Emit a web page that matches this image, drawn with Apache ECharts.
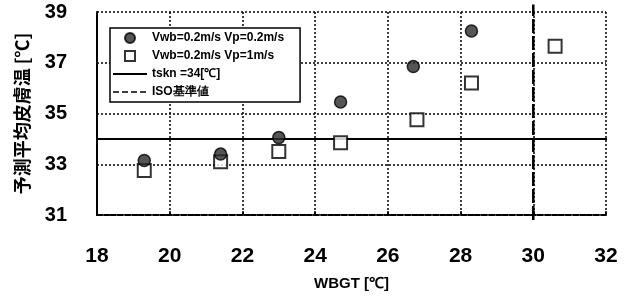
<!DOCTYPE html>
<html>
<head>
<meta charset="utf-8">
<script src="https://cdn.jsdelivr.net/npm/echarts@6/dist/echarts.min.js"></script>
<style>
  html, body { margin: 0; padding: 0; background: #fff; }
  #chart { width: 629px; height: 297px; }
</style>
</head>
<body>
<div id="chart"></div>
<script>
// WBGT [℃] vs predicted mean skin temperature
const seriesNames = ["Vwb=0.2m/s Vp=0.2m/s", "Vwb=0.2m/s Vp=1m/s", "tskn =34[℃]", "ISO基準値"];
const circleX = [19.3, 21.4, 23.0, 24.7, 26.7, 28.3];
const circleY = [33.15, 33.4, 34.05, 35.45, 36.85, 38.25];
const squareX = [19.3, 21.4, 23.0, 24.7, 26.8, 28.3, 30.6];
const squareY = [32.75, 33.1, 33.5, 33.85, 34.75, 36.2, 37.65];
const tsknY = 34;
const isoX = 30;
const xTicks = [18, 20, 22, 24, 26, 28, 30, 32];
const yTicks = [31, 33, 35, 37, 39];

const chart = echarts.init(document.getElementById("chart"));

const font = "'Liberation Sans', Arial, sans-serif";
const isoDash = [14, 3];

chart.setOption({
  animation: false,
  backgroundColor: "#fff",
  grid: {
    left: 97,
    right: 23,
    top: 12,
    bottom: 82,
  },
  legend: {
    orient: "vertical",
    left: 110,
    top: 28,
    data: [
      { name: seriesNames[0], icon: "circle" },
      { name: seriesNames[1], icon: "path://M0,0L10,0L10,10L0,10Z" },
      { name: seriesNames[2], icon: "inherit", lineStyle: { width: 2 }, itemStyle: { opacity: 0 } },
      { name: seriesNames[3], icon: "inherit", lineStyle: { type: [6, 3], width: 1.5 }, itemStyle: { opacity: 0 } },
    ],
    itemWidth: 34,
    itemHeight: 10,
    itemGap: 6,
    padding: [4, 16, 4, 2],
    backgroundColor: "#fff",
    borderColor: "#000",
    borderWidth: 1.5,
    textStyle: {
      fontFamily: font,
      fontWeight: "bold",
      fontSize: 12,
      color: "#000",
    },
  },
  xAxis: {
    type: "value",
    min: xTicks[0],
    max: xTicks[xTicks.length - 1],
    interval: 2,
    name: "WBGT [℃]",
    nameLocation: "middle",
    nameGap: 61,
    nameTextStyle: {
      fontFamily: font,
      fontWeight: "bold",
      fontSize: 15,
      color: "#000",
    },
    axisLine: {
      lineStyle: { color: "#000", width: 2, type: [5, 2] },
    },
    axisTick: { show: true, inside: true, length: 4, lineStyle: { color: "#000", width: 1.5 } },
    axisLabel: {
      margin: 31,
      fontFamily: font,
      fontWeight: "bold",
      fontSize: 21,
      color: "#000",
    },
    splitLine: {
      show: true,
      lineStyle: { color: "#000", width: 1.5, type: [2, 2] },
    },
  },
  yAxis: {
    type: "value",
    min: yTicks[0],
    max: yTicks[yTicks.length - 1],
    interval: 2,
    name: "予測平均皮膚温 [℃]",
    nameLocation: "middle",
    nameGap: 66,
    nameTextStyle: {
      fontFamily: "'Noto Sans CJK JP', sans-serif",
      fontWeight: "bold",
      fontSize: 18,
      color: "#000",
    },
    axisLine: {
      show: true,
      lineStyle: { color: "#000", width: 2 },
    },
    axisTick: { show: false },
    axisLabel: {
      margin: 30,
      fontFamily: font,
      fontWeight: "bold",
      fontSize: 20,
      color: "#000",
    },
    splitLine: {
      show: true,
      lineStyle: { color: "#000", width: 1.5, type: [2, 2] },
    },
  },
  series: [
    {
      name: seriesNames[1],
      type: "scatter",
      symbol: "rect",
      symbolSize: 13,
      itemStyle: { color: "#fff", borderColor: "#000", borderWidth: 2 },
      data: squareX.map((x, i) => [x, squareY[i]]),
      z: 3,
    },
    {
      name: seriesNames[0],
      type: "scatter",
      symbol: "circle",
      symbolSize: 12,
      itemStyle: { color: "#2a2a2a", borderColor: "#000", borderWidth: 1.5 },
      data: circleX.map((x, i) => [x, circleY[i]]),
      z: 4,
    },
    {
      name: seriesNames[2],
      type: "line",
      symbol: "none",
      clip: false,
      lineStyle: { color: "#000", width: 2 },
      itemStyle: { color: "#000" },
      data: [[18, tsknY], [32.2, tsknY]],
      z: 2,
    },
    {
      name: seriesNames[3],
      type: "line",
      symbol: "none",
      clip: false,
      lineStyle: { color: "#000", width: 2.5, type: isoDash },
      itemStyle: { color: "#000" },
      data: [[isoX, 30.8], [isoX, 39.3]],
      z: 2,
    },
  ],
});
</script>
</body>
</html>
